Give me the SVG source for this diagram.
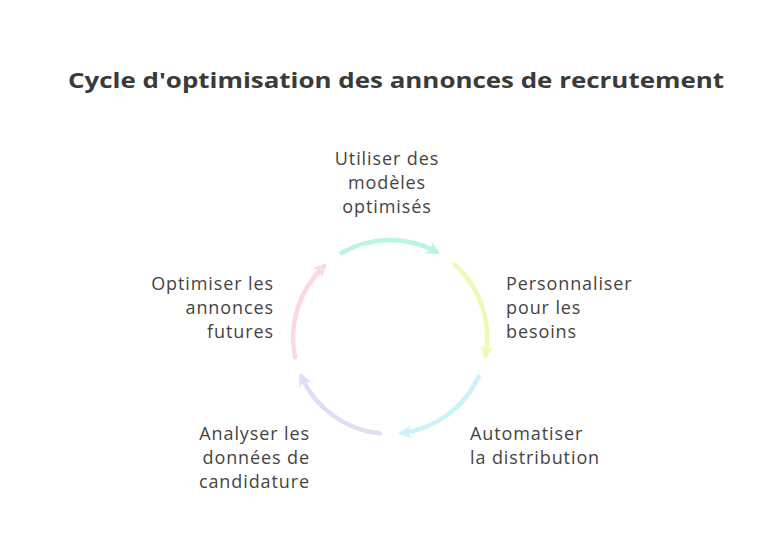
<svg xmlns="http://www.w3.org/2000/svg" width="772" height="540" viewBox="0 0 772 540">
  <style>
    .title { font-family: "Open Sans", "Noto Sans", "Liberation Sans", sans-serif; font-weight: 700; font-size: 22px; fill: #3a3a3a; }
    .lbl { font-family: "Open Sans", "Noto Sans", "Liberation Sans", sans-serif; font-size: 18px; letter-spacing: 0.9px; fill: #444444; }
    .arc { fill: none; stroke-width: 4.5; stroke-linecap: round; opacity: 0.7; }
  </style>
  <defs>
    <marker id="m0" viewBox="0 0 10 10" refX="7" refY="5" markerWidth="3" markerHeight="3" orient="auto" markerUnits="strokeWidth">
      <path d="M0,0 L10,5 L0,10 L3,5 Z" fill="#9ff0d8"/>
    </marker>
    <marker id="m1" viewBox="0 0 10 10" refX="7" refY="5" markerWidth="3" markerHeight="3" orient="auto" markerUnits="strokeWidth">
      <path d="M0,0 L10,5 L0,10 L3,5 Z" fill="#e6f79a"/>
    </marker>
    <marker id="m2" viewBox="0 0 10 10" refX="7" refY="5" markerWidth="3" markerHeight="3" orient="auto" markerUnits="strokeWidth">
      <path d="M0,0 L10,5 L0,10 L3,5 Z" fill="#b6eef4"/>
    </marker>
    <marker id="m3" viewBox="0 0 10 10" refX="7" refY="5" markerWidth="3" markerHeight="3" orient="auto" markerUnits="strokeWidth">
      <path d="M0,0 L10,5 L0,10 L3,5 Z" fill="#d6d0f2"/>
    </marker>
    <marker id="m4" viewBox="0 0 10 10" refX="7" refY="5" markerWidth="3" markerHeight="3" orient="auto" markerUnits="strokeWidth">
      <path d="M0,0 L10,5 L0,10 L3,5 Z" fill="#fbc9d4"/>
    </marker>
  </defs>
  <rect width="772" height="540" fill="#ffffff"/>
  <text class="title" x="396" y="88" text-anchor="middle" textLength="656" lengthAdjust="spacingAndGlyphs">Cycle d'optimisation des annonces de recrutement</text>

  <g id="connectors">
    <path class="arc" stroke="#9ff0d8" marker-end="url(#m0)" d="M341.5,253 A97,97 0 0 1 436.5,252"/>
    <path class="arc" stroke="#e6f79a" marker-end="url(#m1)" d="M454.9,264.9 A97,97 0 0 1 485.5,355"/>
    <path class="arc" stroke="#b6eef4" marker-end="url(#m2)" d="M478.6,376.5 A97,97 0 0 1 402,433"/>
    <path class="arc" stroke="#d6d0f2" marker-end="url(#m3)" d="M379.9,433.5 A97,97 0 0 1 301.4,376.5"/>
    <path class="arc" stroke="#fbc9d4" marker-end="url(#m4)" d="M295.1,357.2 A97,97 0 0 1 324,266.5"/>
  </g>

  <g id="node-utiliser">
    <text class="lbl" x="387" y="165" text-anchor="middle">Utiliser des</text>
    <text class="lbl" x="387" y="189" text-anchor="middle">modèles</text>
    <text class="lbl" x="387" y="213" text-anchor="middle">optimisés</text>
  </g>
  <g id="node-personnaliser">
    <text class="lbl" x="506" y="290">Personnaliser</text>
    <text class="lbl" x="506" y="314">pour les</text>
    <text class="lbl" x="506" y="338">besoins</text>
  </g>
  <g id="node-automatiser">
    <text class="lbl" x="470" y="440">Automatiser</text>
    <text class="lbl" x="470" y="464">la distribution</text>
  </g>
  <g id="node-analyser">
    <text class="lbl" x="310" y="440" text-anchor="end">Analyser les</text>
    <text class="lbl" x="310" y="464" text-anchor="end">données de</text>
    <text class="lbl" x="310" y="488" text-anchor="end">candidature</text>
  </g>
  <g id="node-optimiser">
    <text class="lbl" x="274" y="290" text-anchor="end">Optimiser les</text>
    <text class="lbl" x="274" y="314" text-anchor="end">annonces</text>
    <text class="lbl" x="274" y="338" text-anchor="end">futures</text>
  </g>
</svg>
